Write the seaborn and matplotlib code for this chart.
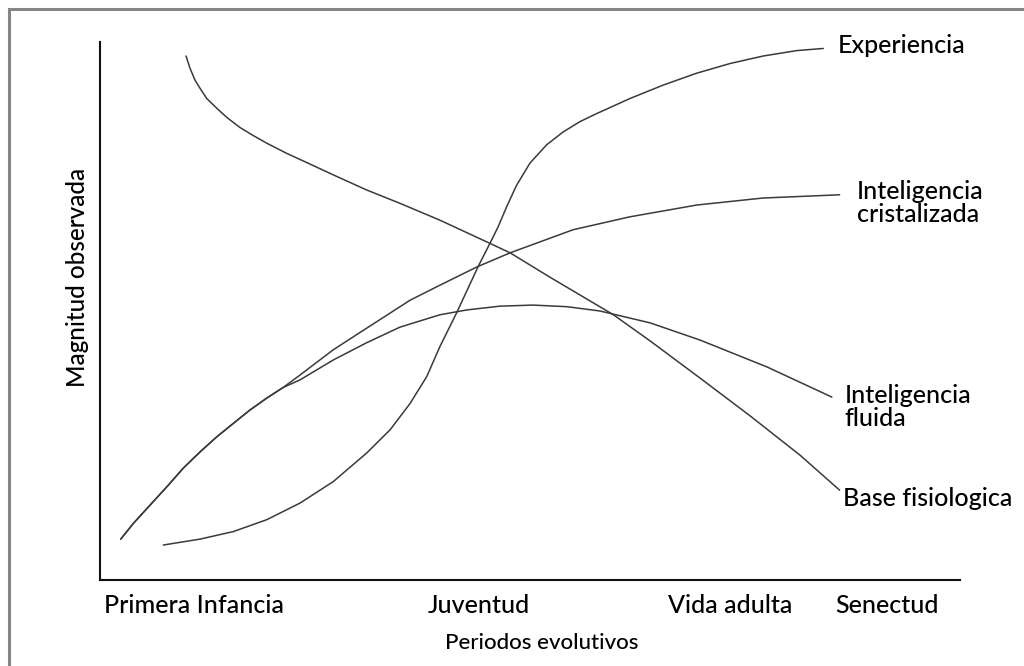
import matplotlib
matplotlib.use("Agg")
import matplotlib.pyplot as plt
from matplotlib.patches import Rectangle
import seaborn as sns

# Curves (x: 0-100 along the periods axis, y: 0-100 magnitude)
base_x = [10.0, 10.47, 11.05, 11.63, 12.41, 13.57, 14.73, 16.28, 17.83, 19.38,
          21.71, 24.03, 27.13, 31.0, 34.9, 39.5, 45.3, 47.7, 52.3, 59.7,
          64.0, 69.8, 75.6, 81.4, 86.0]
base_y = [97.4, 95.1, 92.9, 91.4, 89.5, 87.7, 86.0, 84.1, 82.6, 81.2,
          79.3, 77.6, 75.3, 72.5, 70.0, 66.9, 62.6, 60.8, 56.3, 49.3,
          44.4, 37.5, 30.5, 23.2, 16.7]

fluida_x = [2.41, 3.87, 5.81, 7.76, 9.69, 11.63, 13.57, 15.5, 17.44, 19.38,
            21.31, 23.26, 27.13, 31.0, 34.88, 39.53, 42.67, 46.5, 50.35,
            54.3, 58.14, 63.95, 69.77, 77.56, 85.1]
fluida_y = [7.6, 10.5, 13.9, 17.3, 20.8, 23.8, 26.6, 29.1, 31.6, 33.8,
            35.8, 37.2, 40.9, 44.1, 47.0, 49.3, 50.2, 50.9, 51.1,
            50.8, 50.0, 47.8, 44.6, 39.6, 34.0]

crist_x = [2.41, 3.87, 5.81, 7.76, 9.69, 11.63, 13.57, 15.5, 17.44, 19.38,
           21.31, 23.26, 27.13, 31.0, 36.05, 39.53, 43.84, 47.67, 55.0,
           61.6, 69.4, 77.1, 86.0]
crist_y = [7.6, 10.5, 13.9, 17.3, 20.8, 23.8, 26.6, 29.1, 31.6, 33.8,
           35.8, 38.1, 42.8, 46.8, 52.0, 54.8, 58.2, 60.8, 65.1,
           67.5, 69.7, 71.0, 71.6]

exp_x = [7.36, 11.63, 15.5, 19.38, 23.26, 27.13, 31.01, 33.72, 36.05, 37.99,
         39.53, 41.51, 43.95, 45.35, 46.31, 47.29, 48.45, 50.0, 51.94, 53.87,
         55.81, 57.76, 61.63, 65.5, 69.38, 73.26, 77.13, 81.01, 84.1]
exp_y = [6.5, 7.6, 9.0, 11.2, 14.3, 18.3, 23.6, 27.9, 32.8, 37.8,
         43.4, 49.8, 58.2, 62.6, 65.7, 69.4, 73.4, 77.5, 80.9, 83.3,
         85.2, 86.7, 89.5, 92.0, 94.2, 96.0, 97.4, 98.4, 98.8]

periodos = ["Primera Infancia", "Juventud", "Vida adulta", "Senectud"]
periodos_pos = [10.9, 44.0, 73.3, 91.5]

etiquetas = ["Experiencia", "Inteligencia\ncristalizada",
             "Inteligencia\nfluida", "Base fisiologica"]
etiquetas_x = [85.8, 88.0, 86.6, 86.4]
etiquetas_y = [99.3, 70.1, 32.2, 15.2]

sns.set_style("white")
plt.rcParams["font.family"] = ["Lato", "DejaVu Sans"]

fig = plt.figure(figsize=(10.24, 6.66), dpi=100)
ax = fig.add_axes([100 / 1024, 1 - 580 / 666, 860 / 1024, 538 / 666])

line_color = "#3a3a3a"
for xs, ys in [(base_x, base_y), (fluida_x, fluida_y),
               (crist_x, crist_y), (exp_x, exp_y)]:
    sns.lineplot(x=xs, y=ys, ax=ax, color=line_color, linewidth=1.1,
                 sort=False, estimator=None)

for txt, tx, ty in zip(etiquetas, etiquetas_x, etiquetas_y):
    ax.text(tx, ty, txt, fontsize=18, ha="left", va="center", weight=500,
            linespacing=1.0, color="#000000", clip_on=False)

ax.set_xlim(0, 100)
ax.set_ylim(0, 100)
ax.set_xticks(periodos_pos)
ax.set_xticklabels(periodos, fontsize=18, color="#000000", weight=500)
ax.set_yticks([])
ax.tick_params(axis="x", length=0, pad=10)
ax.set_xlabel("Periodos evolutivos", fontsize=16, color="#000000", weight=500)
ax.set_ylabel("Magnitud observada", fontsize=17.5, color="#000000", weight=500)
ax.xaxis.set_label_coords(0.514, -0.099)
ax.yaxis.set_label_coords(-0.013, 0.563)

sns.despine(ax=ax)
for side in ["left", "bottom"]:
    ax.spines[side].set_color("#111111")
    ax.spines[side].set_linewidth(1.5)

# grey frame around the figure (right and bottom edges fall outside)
fig.patches.append(Rectangle((9 / 1024, -0.1), 1.2, 1 - 9 / 666 + 0.1,
                             transform=fig.transFigure, fill=False,
                             edgecolor="#858585", linewidth=2.2))

fig.savefig("out.png", dpi=100)
